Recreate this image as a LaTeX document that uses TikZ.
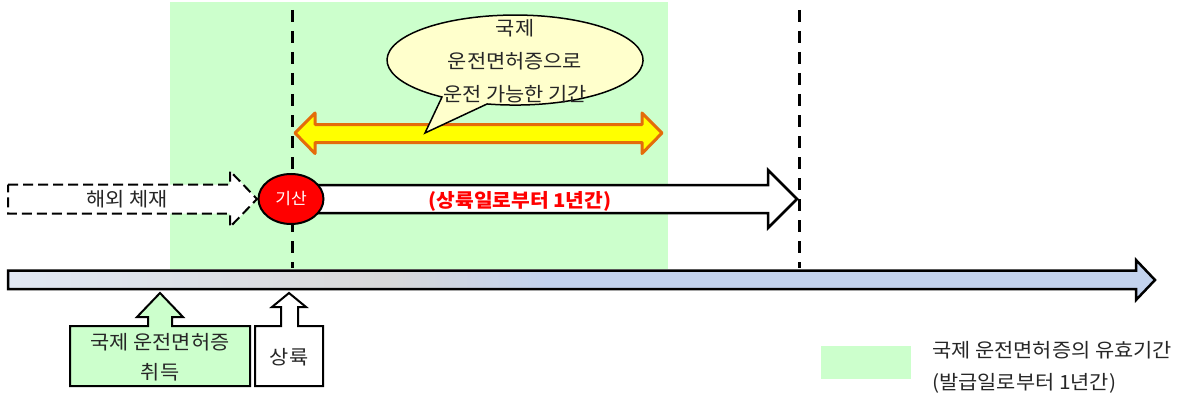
\documentclass[tikz,border=0pt]{standalone}
\usepackage{fontspec}
\setmainfont[FakeStretch=1.07]{Noto Sans CJK KR}
\usetikzlibrary{shapes.geometric}
\definecolor{lgreen}{HTML}{CCFFCC}
\definecolor{bubfill}{HTML}{FFFFCC}
\definecolor{orng}{HTML}{E46C0A}
\definecolor{yel}{HTML}{FFFF00}
\definecolor{barL}{HTML}{E0E7F3}
\definecolor{barM}{HTML}{D8D8D8}
\definecolor{barR}{HTML}{C3D3EE}
\pgfdeclarehorizontalshading{mainbar}{100bp}{color(0bp)=(barL); color(25bp)=(barL); color(41.5bp)=(barM); color(48.5bp)=(barR); color(75bp)=(barR); color(100bp)=(barR)}
\tikzset{
  txt/.style={inner sep=0pt, font=\fontsize{19.5}{30}\selectfont, text=black!85},
  vdash/.style={line width=3pt, dash pattern=on 12pt off 9pt},
  blockline/.style={draw=black, line width=2pt, line join=miter},
}
\begin{document}
\begin{tikzpicture}[x=1pt,y=-1pt]
\useasboundingbox (0,0) rectangle (1184,396);
% validity region
\fill[lgreen] (170,2) rectangle (668,269);
% vertical dashed lines
\coordinate (d1t) at (292,10); \coordinate (d1b) at (292,268);
\coordinate (d2t) at (799,10); \coordinate (d2b) at (799,268);
\draw[vdash] (d1t) -- (d1b);
\draw[vdash] (d2t) -- (d2b);
% yellow double arrow
\draw[fill=yel, draw=orng, line width=3pt, line join=round]
  (295,133) -- (315,113) -- (315,124.5) -- (642,124.5) -- (642,113) -- (662,133)
  -- (642,153.5) -- (642,142.5) -- (315,142.5) -- (315,153.5) -- cycle;
% speech bubble
\draw[fill=bubfill, draw=black, line width=1.5pt, line join=miter]
  (442.0,97.0) arc[start angle=124.8, end angle=462.6, x radius=128, y radius=45]
  -- (425,133) -- cycle;
\node[txt, align=center, font=\fontsize{19.5}{33}\selectfont] (bub) at (515,61) {국제\\운전면허증으로\\운전 가능한 기간};
% dashed arrow (stay abroad)
\draw[fill=white, draw=black, line width=2pt, dash pattern=on 10pt off 5pt]
  (8,184.5) -- (230,184.5) -- (230,171) -- (257,199) -- (230,227) -- (230,213.5) -- (8,213.5) -- cycle;
\node[txt] (stay) at (127,199) {해외 체재};
% white period arrow
\draw[fill=white, blockline, line width=2.5pt]
  (300,185) -- (768,185) -- (768,170) -- (797,199) -- (768,228) -- (768,213) -- (300,213) -- cycle;
\node[txt, font=\bfseries\fontsize{19}{22}\selectfont, text=red] (period) at (520,201) {(상륙일로부터 1년간)};
% start node
\node[ellipse, draw=black, line width=2pt, fill=red, minimum width=65pt, minimum height=50pt, inner sep=0pt,
      text=white, font=\fontsize{16}{18}\selectfont] (gisan) at (291,199) {기산};
% main time axis
\draw[shading=mainbar, draw=black, line width=2.5pt, line join=miter]
  (8,270.5) -- (1136,270.5) -- (1136,260) -- (1155,280) -- (1136,300) -- (1136,289) -- (8,289) -- cycle;
% issue callout
\draw[fill=lgreen, blockline]
  (70,326) -- (148,326) -- (148,317) -- (137,317) -- (160,293) -- (183,317) -- (172,317) -- (172,326)
  -- (250,326) -- (250,386) -- (70,386) -- cycle;
\node[txt, align=center] (issue) at (160,357) {국제 운전면허증\\취득};
% landing callout
\draw[fill=white, blockline]
  (255,326) -- (281,326) -- (281,307) -- (272,307) -- (289,293) -- (306,307) -- (298,307) -- (298,326)
  -- (323,326) -- (323,386) -- (255,386) -- cycle;
\node[txt] (land) at (289,357) {상륙};
% legend
\fill[lgreen] (821,346) rectangle (911,379);
\node[txt, align=left, anchor=west, font=\fontsize{19.5}{32}\selectfont] (legend) at (932,367) {국제 운전면허증의 유효기간\\(발급일로부터 1년간)};
\end{tikzpicture}
\end{document}
